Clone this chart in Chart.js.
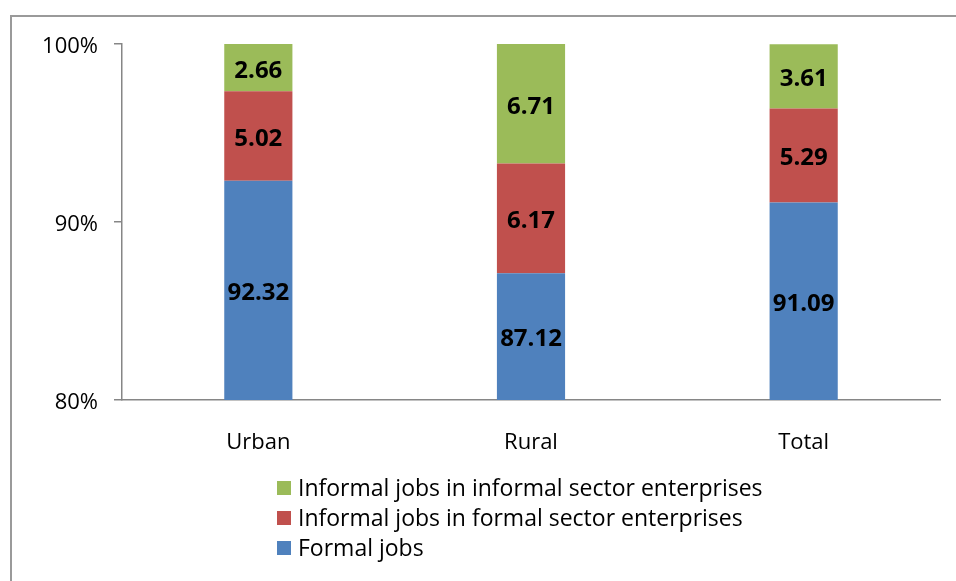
<!DOCTYPE html>
<html>
<head>
<meta charset="utf-8">
<script src="https://cdn.jsdelivr.net/npm/chart.js@4/dist/chart.umd.min.js"></script>
<style>
  html, body { margin: 0; padding: 0; background: #fff; }
  #wrap { width: 956px; height: 581px; }
</style>
</head>
<body>
<div id="wrap"><canvas id="myChart" width="956" height="581"></canvas></div>
<script>
// Datos del gráfico
var categories = ['Urban', 'Rural', 'Total'];
var formalJobs = [92.32, 87.12, 91.09];
var informalFormalSector = [5.02, 6.17, 5.29];
var informalInformalSector = [2.66, 6.71, 3.61];
var yTicks = [80, 90, 100];

var FONT = '"Open Sans", "Noto Sans", sans-serif';

// Marco gris alrededor del gráfico
var framePlugin = {
  id: 'frame',
  beforeDraw: function (chart) {
    var ctx = chart.ctx;
    ctx.save();
    ctx.strokeStyle = '#9a9a9a';
    ctx.lineWidth = 2;
    ctx.strokeRect(11, 16, 2000, 2000);
    ctx.restore();
  }
};

// Etiquetas de valor en el centro de la parte visible de cada barra
var valueLabels = {
  id: 'valueLabels',
  afterDatasetsDraw: function (chart) {
    var ctx = chart.ctx;
    var area = chart.chartArea;
    ctx.save();
    ctx.font = 'bold 24px ' + FONT;
    ctx.fillStyle = '#000';
    ctx.textAlign = 'center';
    ctx.textBaseline = 'middle';
    chart.data.datasets.forEach(function (ds, i) {
      var meta = chart.getDatasetMeta(i);
      meta.data.forEach(function (bar, j) {
        var top = Math.max(bar.y, area.top);
        var bottom = Math.min(bar.base, area.bottom);
        ctx.fillText(ds.data[j].toFixed(2), bar.x, (top + bottom) / 2 + 3);
      });
    });
    ctx.restore();
  }
};

// Leyenda vertical debajo del eje
var columnLegend = {
  id: 'columnLegend',
  afterDraw: function (chart) {
    var ctx = chart.ctx;
    var items = chart.data.datasets.slice().reverse();
    ctx.save();
    ctx.font = '23px ' + FONT;
    ctx.textAlign = 'left';
    ctx.textBaseline = 'middle';
    items.forEach(function (ds, k) {
      var y = 488 + k * 30;
      ctx.fillStyle = ds.backgroundColor;
      ctx.fillRect(277, y - 7, 14, 14);
      ctx.fillStyle = '#000';
      ctx.fillText(ds.label, 298, y + 1);
    });
    ctx.restore();
  }
};

var chartData = {
  labels: categories,
  datasets: [
    { label: 'Formal jobs', data: formalJobs, backgroundColor: '#4F81BD' },
    { label: 'Informal jobs in formal sector enterprises', data: informalFormalSector, backgroundColor: '#C0504D' },
    { label: 'Informal jobs in informal sector enterprises', data: informalInformalSector, backgroundColor: '#9BBB59' }
  ]
};

var chartOptions = {
  responsive: false,
  animation: false,
  layout: { padding: { left: 0, right: 16, top: 44, bottom: 0 } },
  datasets: { bar: { categoryPercentage: 1, barPercentage: 0.25 } },
  plugins: { legend: { display: false }, tooltip: { enabled: false } },
  scales: {
    x: {
      stacked: true,
      grid: { display: false, drawTicks: false },
      border: { display: true, color: '#868686', width: 1.5 },
      ticks: { color: '#000', font: { family: FONT, size: 22 }, padding: 30 },
      afterFit: function (scale) { scale.height = 181; }
    },
    y: {
      stacked: true,
      min: yTicks[0],
      max: yTicks[yTicks.length - 1],
      afterBuildTicks: function (scale) {
        scale.ticks = yTicks.map(function (v) { return { value: v }; });
      },
      grid: { drawOnChartArea: false, drawTicks: true, tickLength: 8, color: '#868686', lineWidth: 1.5 },
      border: { display: true, color: '#868686', width: 1.5 },
      ticks: {
        color: '#000',
        font: { family: FONT, size: 22 },
        padding: 16,
        labelOffset: 3,
        callback: function (v) { return v + '%'; }
      },
      afterFit: function (scale) { scale.width = 122; }
    }
  }
};

var ctx = document.getElementById('myChart').getContext('2d');
var myChart = new Chart(ctx, {
  type: 'bar',
  data: chartData,
  options: chartOptions,
  plugins: [framePlugin, valueLabels, columnLegend]
});
</script>
</body>
</html>
